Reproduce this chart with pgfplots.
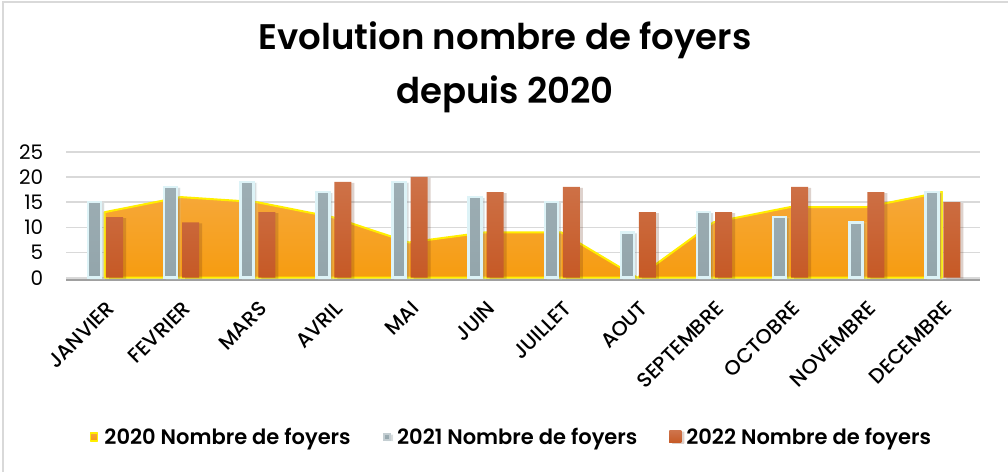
\documentclass[border=0pt]{standalone}
\usepackage{fontspec}
\setmainfont{Poppins}
\newfontfamily\titlefont{Poppins}[UprightFont={* SemiBold}]
\newfontfamily\medfont{Poppins}[UprightFont={* Medium}]
\usepackage{pgfplots}
\pgfplotsset{compat=1.18}
\definecolor{gridc}{HTML}{D9D9D9}
\definecolor{basec}{HTML}{A0A0A0}
\definecolor{blueA}{HTML}{9DAEB4}
\definecolor{blueB}{HTML}{93A5AB}
\definecolor{blueE}{HTML}{DDF3F7}
\definecolor{brA}{HTML}{CE734A}
\definecolor{brB}{HTML}{C65925}
\definecolor{orA}{HTML}{F6A83A}
\definecolor{orB}{HTML}{F69C10}
\definecolor{yel}{HTML}{FFEE00}
\begin{document}
\begin{tikzpicture}
\path[use as bounding box] (0,0) rectangle (1008pt,-472pt);
\draw[gridc, line width=2pt] (3pt,-472pt) -- (3pt,-2pt) -- (1008pt,-2pt);
\node[font=\titlefont\fontsize{35.5}{40}\selectfont, anchor=base] at (505pt,-49pt) {Evolution nombre de foyers};
\node[font=\titlefont\fontsize{35.5}{40}\selectfont, anchor=base] at (505pt,-103pt) {depuis 2020};
\begin{axis}[
  scale only axis,
  width=913.5pt, height=126pt,
  at={(66.5pt,-277.7pt)}, anchor=south west,
  xmin=-0.5, xmax=11.5, ymin=0, ymax=25,
  ytick={0,5,10,15,20,25},
  xtick={0,...,11},
  xticklabels={JANVIER,FEVRIER,MARS,AVRIL,MAI,JUIN,JUILLET,AOUT,SEPTEMBRE,OCTOBRE,NOVEMBRE,DECEMBRE},
  axis line style={draw=none},
  major tick length=0pt,
  ymajorgrids,
  grid style={gridc, line width=1.6pt},
  /pgf/number format/assume math mode=true,
  yticklabel style={font=\fontsize{20}{22}\selectfont, inner sep=0pt, anchor=east, xshift=-23pt},
  xticklabel style={font=\medfont\fontsize{20.5}{22}\selectfont, xshift=1pt, yshift=-22pt, rotate=45, anchor=north east, inner sep=0pt},
  clip=false,
  legend columns=3,
  legend style={at={(0.487,-1.264)}, anchor=center, draw=none, fill=none,
    font=\titlefont\fontsize{21}{24}\selectfont,
    /tikz/every even column/.append style={column sep=30pt}},
]
\addplot[draw=yel, line width=2pt, top color=orA, bottom color=orB, line join=round,
  legend image code/.code={\draw[draw=yel, fill=orB, line width=1.5pt] (0pt,-4pt) rectangle (7pt,4pt); \path (11pt,0pt);}]
  coordinates {(0,13)(1,16)(2,15)(3,12)(4,7)(5,9)(6,9)(7,0)(8,11)(9,14)(10,14)(11,17)} \closedcycle;
\addlegendentry{2020 Nombre de foyers}
\draw[basec, line width=2pt] ([yshift=-2pt]axis cs:-0.5,0) -- ([yshift=-2pt]axis cs:11.5,0);
\addplot[ybar, bar width=13pt, bar shift=-10pt, draw=blueE, line width=2.5pt, top color=blueA, bottom color=blueB,
  preaction={fill=black, opacity=0.12, transform canvas={xshift=3pt, yshift=-1pt}},
  legend image code/.code={\fill[blueA!60!white] (0pt,-3pt) rectangle (6pt,3pt); \path (10pt,0pt);}]
  coordinates {(0,15)(1,18)(2,19)(3,17)(4,19)(5,16)(6,15)(7,9)(8,13)(9,12)(10,11)(11,17)};
\addlegendentry{2021 Nombre de foyers}
\addplot[ybar, bar width=17pt, bar shift=10pt, draw=none, top color=brA, bottom color=brB,
  preaction={fill=black, opacity=0.12, transform canvas={xshift=3pt, yshift=-1pt}},
  legend image code/.code={\fill[brA] (0pt,-6pt) rectangle (12pt,6pt); \path (15pt,0pt);}]
  coordinates {(0,12)(1,11)(2,13)(3,19)(4,20)(5,17)(6,18)(7,13)(8,13)(9,18)(10,17)(11,15)};
\addlegendentry{2022 Nombre de foyers}
\end{axis}
\end{tikzpicture}
\end{document}
